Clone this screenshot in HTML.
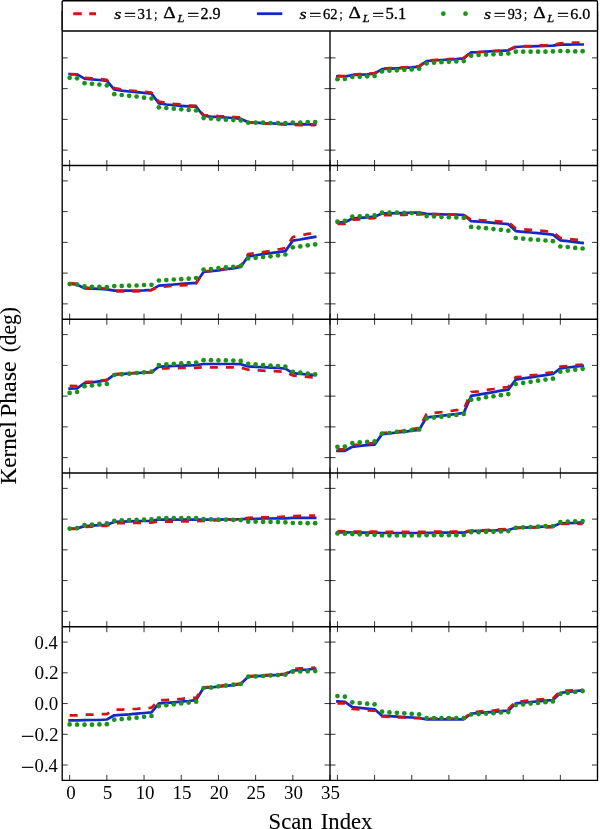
<!DOCTYPE html>
<html><head><meta charset="utf-8"><title>Kernel Phase vs Scan Index</title>
<style>html,body{margin:0;padding:0;background:#fff;}svg{display:block;}text{font-family:"Liberation Serif","DejaVu Serif",serif;fill:#000;}.lg text{stroke:#000;stroke-width:0.3px;}.ax text{stroke:#000;stroke-width:0.12px;}</style>
</head><body>
<svg width="600" height="829" viewBox="0 0 600 829">
<rect x="0" y="0" width="600" height="829" fill="#fff"/>
<polyline points="69.64,74.00 77.08,74.40 84.52,78.60 91.96,79.40 99.40,80.00 106.84,80.80 114.28,89.50 121.72,90.60 129.16,91.50 136.60,92.20 144.04,92.80 151.48,93.70 158.92,103.30 166.36,104.50 173.80,105.20 181.24,105.80 188.68,106.30 196.12,106.70 203.56,116.00 211.00,116.70 218.44,117.10 225.88,117.50 233.32,118.00 240.76,118.80 248.20,122.30 255.64,122.70 263.08,123.20 270.52,123.40 277.96,123.60 285.40,124.00 292.84,124.00 300.28,124.30 307.72,124.30 315.16,124.50" fill="none" stroke="#1428c6" stroke-width="2.7" stroke-linecap="square" stroke-linejoin="round"/>
<polyline points="69.64,74.30 77.08,74.30 84.52,77.80 91.96,78.40 99.40,79.00 106.84,79.80 114.28,88.00 121.72,89.50 129.16,90.50 136.60,91.00 144.04,91.70 151.48,92.50 158.92,101.70 166.36,102.80 173.80,103.80 181.24,104.50 188.68,105.30 196.12,105.80 203.56,115.00 211.00,115.60 218.44,116.10 225.88,116.40 233.32,117.00 240.76,117.50 248.20,122.30 255.64,122.80 263.08,123.40 270.52,123.80 277.96,124.20 285.40,124.60 292.84,124.80 300.28,125.10 307.72,125.10 315.16,125.20" fill="none" stroke="#cf1414" stroke-width="2.7" stroke-dasharray="8.02 8.02" stroke-linecap="butt" stroke-linejoin="round"/>
<g fill="#1a931b"><circle cx="69.64" cy="77.80" r="2.35"/><circle cx="77.08" cy="78.30" r="2.35"/><circle cx="84.52" cy="83.20" r="2.35"/><circle cx="91.96" cy="83.80" r="2.35"/><circle cx="99.40" cy="84.60" r="2.35"/><circle cx="106.84" cy="85.40" r="2.35"/><circle cx="114.28" cy="94.20" r="2.35"/><circle cx="121.72" cy="95.00" r="2.35"/><circle cx="129.16" cy="95.80" r="2.35"/><circle cx="136.60" cy="96.50" r="2.35"/><circle cx="144.04" cy="97.70" r="2.35"/><circle cx="151.48" cy="98.50" r="2.35"/><circle cx="158.92" cy="107.30" r="2.35"/><circle cx="166.36" cy="108.00" r="2.35"/><circle cx="173.80" cy="108.70" r="2.35"/><circle cx="181.24" cy="109.30" r="2.35"/><circle cx="188.68" cy="110.00" r="2.35"/><circle cx="196.12" cy="110.50" r="2.35"/><circle cx="203.56" cy="118.10" r="2.35"/><circle cx="211.00" cy="118.60" r="2.35"/><circle cx="218.44" cy="119.30" r="2.35"/><circle cx="225.88" cy="119.70" r="2.35"/><circle cx="233.32" cy="120.10" r="2.35"/><circle cx="240.76" cy="120.40" r="2.35"/><circle cx="248.20" cy="122.70" r="2.35"/><circle cx="255.64" cy="122.70" r="2.35"/><circle cx="263.08" cy="122.70" r="2.35"/><circle cx="270.52" cy="123.00" r="2.35"/><circle cx="277.96" cy="123.20" r="2.35"/><circle cx="285.40" cy="123.00" r="2.35"/><circle cx="292.84" cy="122.50" r="2.35"/><circle cx="300.28" cy="122.50" r="2.35"/><circle cx="307.72" cy="122.10" r="2.35"/><circle cx="315.16" cy="122.10" r="2.35"/></g>
<polyline points="337.44,76.30 344.87,76.50 352.30,75.20 359.73,74.70 367.16,74.30 374.59,73.60 382.02,69.20 389.45,68.70 396.88,68.30 404.31,67.80 411.74,67.40 419.17,66.70 426.60,61.10 434.03,60.50 441.46,60.00 448.89,59.60 456.32,59.10 463.75,58.40 471.18,52.30 478.61,52.10 486.04,51.70 493.47,51.20 500.90,50.80 508.33,50.30 515.76,47.00 523.19,46.50 530.62,46.30 538.05,46.10 545.48,45.90 552.91,45.60 560.34,44.70 567.77,44.70 575.20,44.50 582.63,44.50" fill="none" stroke="#1428c6" stroke-width="2.7" stroke-linecap="square" stroke-linejoin="round"/>
<polyline points="337.44,75.80 344.87,76.00 352.30,74.70 359.73,74.20 367.16,73.80 374.59,73.10 382.02,68.70 389.45,68.20 396.88,67.80 404.31,67.30 411.74,66.90 419.17,66.20 426.60,60.60 434.03,60.00 441.46,59.50 448.89,59.10 456.32,58.60 463.75,57.90 471.18,52.30 478.61,52.00 486.04,51.70 493.47,51.20 500.90,50.50 508.33,50.10 515.76,46.50 523.19,46.20 530.62,46.10 538.05,45.50 545.48,45.30 552.91,45.00 560.34,43.40 567.77,42.90 575.20,42.70 582.63,42.50" fill="none" stroke="#cf1414" stroke-width="2.7" stroke-dasharray="8.02 8.02" stroke-linecap="butt" stroke-linejoin="round"/>
<g fill="#1a931b"><circle cx="337.44" cy="79.20" r="2.35"/><circle cx="344.87" cy="79.00" r="2.35"/><circle cx="352.30" cy="77.00" r="2.35"/><circle cx="359.73" cy="76.80" r="2.35"/><circle cx="367.16" cy="76.30" r="2.35"/><circle cx="374.59" cy="75.90" r="2.35"/><circle cx="382.02" cy="71.40" r="2.35"/><circle cx="389.45" cy="70.70" r="2.35"/><circle cx="396.88" cy="70.30" r="2.35"/><circle cx="404.31" cy="69.80" r="2.35"/><circle cx="411.74" cy="69.40" r="2.35"/><circle cx="419.17" cy="68.70" r="2.35"/><circle cx="426.60" cy="63.40" r="2.35"/><circle cx="434.03" cy="62.70" r="2.35"/><circle cx="441.46" cy="62.20" r="2.35"/><circle cx="448.89" cy="61.80" r="2.35"/><circle cx="456.32" cy="61.40" r="2.35"/><circle cx="463.75" cy="61.10" r="2.35"/><circle cx="471.18" cy="55.70" r="2.35"/><circle cx="478.61" cy="55.00" r="2.35"/><circle cx="486.04" cy="54.60" r="2.35"/><circle cx="493.47" cy="54.30" r="2.35"/><circle cx="500.90" cy="53.90" r="2.35"/><circle cx="508.33" cy="53.40" r="2.35"/><circle cx="515.76" cy="51.70" r="2.35"/><circle cx="523.19" cy="51.70" r="2.35"/><circle cx="530.62" cy="51.70" r="2.35"/><circle cx="538.05" cy="51.70" r="2.35"/><circle cx="545.48" cy="51.70" r="2.35"/><circle cx="552.91" cy="51.40" r="2.35"/><circle cx="560.34" cy="51.00" r="2.35"/><circle cx="567.77" cy="51.20" r="2.35"/><circle cx="575.20" cy="51.40" r="2.35"/><circle cx="582.63" cy="51.20" r="2.35"/></g>
<polyline points="69.64,283.70 77.08,284.60 84.52,288.40 91.96,288.60 99.40,288.80 106.84,289.30 114.28,290.60 121.72,290.60 129.16,290.60 136.60,290.60 144.04,290.40 151.48,289.90 158.92,285.60 166.36,285.10 173.80,284.50 181.24,283.90 188.68,283.40 196.12,282.80 203.56,271.90 211.00,271.20 218.44,270.30 225.88,269.20 233.32,268.30 240.76,267.00 248.20,256.30 255.64,255.40 263.08,254.00 270.52,253.10 277.96,252.20 285.40,251.10 292.84,240.60 300.28,239.50 307.72,238.20 315.16,236.80" fill="none" stroke="#1428c6" stroke-width="2.7" stroke-linecap="square" stroke-linejoin="round"/>
<polyline points="69.64,283.20 77.08,283.80 84.52,287.70 91.96,288.00 99.40,288.40 106.84,288.60 114.28,291.30 121.72,291.30 129.16,291.30 136.60,291.30 144.04,291.00 151.48,290.10 158.92,286.80 166.36,286.50 173.80,285.80 181.24,285.30 188.68,285.10 196.12,283.50 203.56,271.30 211.00,270.80 218.44,269.50 225.88,268.80 233.32,267.50 240.76,265.90 248.20,254.00 255.64,253.00 263.08,252.20 270.52,251.00 277.96,249.50 285.40,248.00 292.84,237.00 300.28,235.50 307.72,233.90 315.16,233.00" fill="none" stroke="#cf1414" stroke-width="2.7" stroke-dasharray="8.02 8.02" stroke-linecap="butt" stroke-linejoin="round"/>
<g fill="#1a931b"><circle cx="69.64" cy="284.10" r="2.35"/><circle cx="77.08" cy="284.60" r="2.35"/><circle cx="84.52" cy="286.40" r="2.35"/><circle cx="91.96" cy="286.80" r="2.35"/><circle cx="99.40" cy="286.80" r="2.35"/><circle cx="106.84" cy="287.00" r="2.35"/><circle cx="114.28" cy="286.10" r="2.35"/><circle cx="121.72" cy="285.90" r="2.35"/><circle cx="129.16" cy="285.70" r="2.35"/><circle cx="136.60" cy="285.50" r="2.35"/><circle cx="144.04" cy="285.00" r="2.35"/><circle cx="151.48" cy="284.80" r="2.35"/><circle cx="158.92" cy="280.50" r="2.35"/><circle cx="166.36" cy="280.10" r="2.35"/><circle cx="173.80" cy="279.50" r="2.35"/><circle cx="181.24" cy="279.20" r="2.35"/><circle cx="188.68" cy="278.70" r="2.35"/><circle cx="196.12" cy="278.00" r="2.35"/><circle cx="203.56" cy="269.60" r="2.35"/><circle cx="211.00" cy="269.00" r="2.35"/><circle cx="218.44" cy="268.10" r="2.35"/><circle cx="225.88" cy="267.40" r="2.35"/><circle cx="233.32" cy="266.80" r="2.35"/><circle cx="240.76" cy="265.90" r="2.35"/><circle cx="248.20" cy="258.50" r="2.35"/><circle cx="255.64" cy="257.80" r="2.35"/><circle cx="263.08" cy="256.90" r="2.35"/><circle cx="270.52" cy="256.30" r="2.35"/><circle cx="277.96" cy="255.40" r="2.35"/><circle cx="285.40" cy="254.50" r="2.35"/><circle cx="292.84" cy="247.30" r="2.35"/><circle cx="300.28" cy="246.40" r="2.35"/><circle cx="307.72" cy="245.30" r="2.35"/><circle cx="315.16" cy="244.40" r="2.35"/></g>
<polyline points="337.44,222.30 344.87,222.30 352.30,218.50 359.73,217.90 367.16,217.40 374.59,216.70 382.02,213.40 389.45,213.40 396.88,213.20 404.31,213.00 411.74,212.70 419.17,212.70 426.60,213.80 434.03,214.10 441.46,214.30 448.89,214.50 456.32,214.70 463.75,215.00 471.18,221.10 478.61,221.70 486.04,222.20 493.47,222.90 500.90,223.50 508.33,224.20 515.76,231.10 523.19,231.80 530.62,232.50 538.05,233.10 545.48,233.80 552.91,234.70 560.34,240.30 567.77,241.20 575.20,242.10 582.63,243.00" fill="none" stroke="#1428c6" stroke-width="2.7" stroke-linecap="square" stroke-linejoin="round"/>
<polyline points="337.44,223.90 344.87,223.90 352.30,219.70 359.73,219.30 367.16,218.50 374.59,218.10 382.02,215.20 389.45,215.20 396.88,215.00 404.31,214.80 411.74,214.50 419.17,214.30 426.60,214.00 434.03,214.10 441.46,214.30 448.89,214.50 456.32,214.70 463.75,215.00 471.18,219.80 478.61,220.20 486.04,220.50 493.47,221.00 500.90,221.50 508.33,222.00 515.76,228.50 523.19,229.20 530.62,229.80 538.05,230.50 545.48,231.20 552.91,232.00 560.34,238.00 567.77,238.80 575.20,239.60 582.63,240.30" fill="none" stroke="#cf1414" stroke-width="2.7" stroke-dasharray="8.02 8.02" stroke-linecap="butt" stroke-linejoin="round"/>
<g fill="#1a931b"><circle cx="337.44" cy="221.70" r="2.35"/><circle cx="344.87" cy="220.80" r="2.35"/><circle cx="352.30" cy="216.70" r="2.35"/><circle cx="359.73" cy="216.30" r="2.35"/><circle cx="367.16" cy="215.90" r="2.35"/><circle cx="374.59" cy="215.40" r="2.35"/><circle cx="382.02" cy="212.70" r="2.35"/><circle cx="389.45" cy="212.70" r="2.35"/><circle cx="396.88" cy="212.70" r="2.35"/><circle cx="404.31" cy="212.80" r="2.35"/><circle cx="411.74" cy="213.00" r="2.35"/><circle cx="419.17" cy="213.00" r="2.35"/><circle cx="426.60" cy="216.10" r="2.35"/><circle cx="434.03" cy="216.50" r="2.35"/><circle cx="441.46" cy="217.00" r="2.35"/><circle cx="448.89" cy="217.20" r="2.35"/><circle cx="456.32" cy="217.40" r="2.35"/><circle cx="463.75" cy="217.90" r="2.35"/><circle cx="471.18" cy="226.90" r="2.35"/><circle cx="478.61" cy="227.60" r="2.35"/><circle cx="486.04" cy="228.20" r="2.35"/><circle cx="493.47" cy="229.10" r="2.35"/><circle cx="500.90" cy="229.80" r="2.35"/><circle cx="508.33" cy="230.70" r="2.35"/><circle cx="515.76" cy="238.00" r="2.35"/><circle cx="523.19" cy="238.70" r="2.35"/><circle cx="530.62" cy="239.40" r="2.35"/><circle cx="538.05" cy="239.80" r="2.35"/><circle cx="545.48" cy="240.50" r="2.35"/><circle cx="552.91" cy="241.20" r="2.35"/><circle cx="560.34" cy="246.50" r="2.35"/><circle cx="567.77" cy="247.00" r="2.35"/><circle cx="575.20" cy="247.90" r="2.35"/><circle cx="582.63" cy="248.50" r="2.35"/></g>
<polyline points="69.64,388.60 77.08,388.40 84.52,383.00 91.96,382.40 99.40,381.30 106.84,380.10 114.28,374.60 121.72,374.10 129.16,373.40 136.60,373.00 144.04,372.60 151.48,372.10 158.92,366.70 166.36,366.30 173.80,365.90 181.24,365.60 188.68,365.40 196.12,365.20 203.56,364.00 211.00,364.00 218.44,364.00 225.88,364.00 233.32,364.00 240.76,364.20 248.20,366.40 255.64,366.90 263.08,367.10 270.52,367.60 277.96,368.00 285.40,368.70 292.84,373.10 300.28,373.80 307.72,374.50 315.16,375.10" fill="none" stroke="#1428c6" stroke-width="2.7" stroke-linecap="square" stroke-linejoin="round"/>
<polyline points="69.64,385.80 77.08,386.00 84.52,382.00 91.96,381.50 99.40,380.70 106.84,379.90 114.28,374.00 121.72,373.70 129.16,373.30 136.60,373.00 144.04,372.60 151.48,372.30 158.92,368.50 166.36,368.30 173.80,368.20 181.24,368.00 188.68,367.90 196.12,367.80 203.56,367.30 211.00,367.30 218.44,367.30 225.88,367.30 233.32,367.40 240.76,367.50 248.20,369.70 255.64,370.30 263.08,370.70 270.52,371.00 277.96,371.40 285.40,371.80 292.84,375.50 300.28,376.30 307.72,377.00 315.16,377.50" fill="none" stroke="#cf1414" stroke-width="2.7" stroke-dasharray="8.02 8.02" stroke-linecap="butt" stroke-linejoin="round"/>
<g fill="#1a931b"><circle cx="69.64" cy="392.90" r="2.35"/><circle cx="77.08" cy="392.00" r="2.35"/><circle cx="84.52" cy="386.20" r="2.35"/><circle cx="91.96" cy="385.50" r="2.35"/><circle cx="99.40" cy="384.60" r="2.35"/><circle cx="106.84" cy="383.90" r="2.35"/><circle cx="114.28" cy="375.00" r="2.35"/><circle cx="121.72" cy="374.30" r="2.35"/><circle cx="129.16" cy="373.70" r="2.35"/><circle cx="136.60" cy="373.00" r="2.35"/><circle cx="144.04" cy="372.30" r="2.35"/><circle cx="151.48" cy="371.70" r="2.35"/><circle cx="158.92" cy="365.00" r="2.35"/><circle cx="166.36" cy="364.30" r="2.35"/><circle cx="173.80" cy="363.80" r="2.35"/><circle cx="181.24" cy="363.40" r="2.35"/><circle cx="188.68" cy="363.00" r="2.35"/><circle cx="196.12" cy="362.50" r="2.35"/><circle cx="203.56" cy="360.20" r="2.35"/><circle cx="211.00" cy="360.20" r="2.35"/><circle cx="218.44" cy="360.40" r="2.35"/><circle cx="225.88" cy="360.40" r="2.35"/><circle cx="233.32" cy="360.60" r="2.35"/><circle cx="240.76" cy="360.90" r="2.35"/><circle cx="248.20" cy="363.80" r="2.35"/><circle cx="255.64" cy="364.40" r="2.35"/><circle cx="263.08" cy="365.10" r="2.35"/><circle cx="270.52" cy="365.50" r="2.35"/><circle cx="277.96" cy="366.00" r="2.35"/><circle cx="285.40" cy="366.70" r="2.35"/><circle cx="292.84" cy="371.80" r="2.35"/><circle cx="300.28" cy="372.70" r="2.35"/><circle cx="307.72" cy="373.60" r="2.35"/><circle cx="315.16" cy="374.30" r="2.35"/></g>
<polyline points="337.44,450.80 344.87,450.80 352.30,446.80 359.73,445.90 367.16,445.20 374.59,444.60 382.02,434.10 389.45,433.40 396.88,432.50 404.31,431.80 411.74,430.70 419.17,429.80 426.60,417.30 434.03,416.70 441.46,415.80 448.89,414.90 456.32,414.00 463.75,412.90 471.18,395.90 478.61,394.70 486.04,393.40 493.47,392.10 500.90,390.70 508.33,389.60 515.76,379.60 523.19,378.40 530.62,377.30 538.05,376.20 545.48,375.10 552.91,374.00 560.34,368.40 567.77,367.50 575.20,366.60 582.63,365.70" fill="none" stroke="#1428c6" stroke-width="2.7" stroke-linecap="square" stroke-linejoin="round"/>
<polyline points="337.44,449.30 344.87,449.30 352.30,445.00 359.73,444.60 367.16,443.80 374.59,443.00 382.02,433.00 389.45,432.50 396.88,431.30 404.31,430.70 411.74,429.20 419.17,428.00 426.60,414.00 434.03,413.00 441.46,412.20 448.89,411.20 456.32,410.20 463.75,409.50 471.18,392.00 478.61,391.40 486.04,390.00 493.47,389.00 500.90,387.80 508.33,387.00 515.76,377.00 523.19,376.70 530.62,375.30 538.05,374.70 545.48,373.00 552.91,372.40 560.34,366.50 567.77,366.20 575.20,365.00 582.63,364.60" fill="none" stroke="#cf1414" stroke-width="2.7" stroke-dasharray="8.02 8.02" stroke-linecap="butt" stroke-linejoin="round"/>
<g fill="#1a931b"><circle cx="337.44" cy="446.80" r="2.35"/><circle cx="344.87" cy="446.60" r="2.35"/><circle cx="352.30" cy="443.00" r="2.35"/><circle cx="359.73" cy="442.30" r="2.35"/><circle cx="367.16" cy="441.90" r="2.35"/><circle cx="374.59" cy="441.40" r="2.35"/><circle cx="382.02" cy="433.60" r="2.35"/><circle cx="389.45" cy="433.00" r="2.35"/><circle cx="396.88" cy="431.80" r="2.35"/><circle cx="404.31" cy="431.20" r="2.35"/><circle cx="411.74" cy="430.10" r="2.35"/><circle cx="419.17" cy="429.40" r="2.35"/><circle cx="426.60" cy="418.40" r="2.35"/><circle cx="434.03" cy="417.60" r="2.35"/><circle cx="441.46" cy="416.70" r="2.35"/><circle cx="448.89" cy="415.80" r="2.35"/><circle cx="456.32" cy="414.90" r="2.35"/><circle cx="463.75" cy="414.00" r="2.35"/><circle cx="471.18" cy="399.70" r="2.35"/><circle cx="478.61" cy="398.80" r="2.35"/><circle cx="486.04" cy="397.20" r="2.35"/><circle cx="493.47" cy="396.30" r="2.35"/><circle cx="500.90" cy="395.20" r="2.35"/><circle cx="508.33" cy="394.10" r="2.35"/><circle cx="515.76" cy="384.00" r="2.35"/><circle cx="523.19" cy="382.90" r="2.35"/><circle cx="530.62" cy="381.80" r="2.35"/><circle cx="538.05" cy="380.70" r="2.35"/><circle cx="545.48" cy="379.60" r="2.35"/><circle cx="552.91" cy="378.70" r="2.35"/><circle cx="560.34" cy="371.70" r="2.35"/><circle cx="567.77" cy="370.60" r="2.35"/><circle cx="575.20" cy="369.70" r="2.35"/><circle cx="582.63" cy="368.80" r="2.35"/></g>
<polyline points="69.64,528.60 77.08,528.40 84.52,526.10 91.96,525.70 99.40,525.20 106.84,524.80 114.28,521.90 121.72,521.70 129.16,521.40 136.60,521.20 144.04,521.00 151.48,520.80 158.92,519.70 166.36,519.70 173.80,519.70 181.24,519.70 188.68,519.70 196.12,519.70 203.56,519.70 211.00,519.70 218.44,519.70 225.88,519.40 233.32,519.40 240.76,519.20 248.20,518.80 255.64,518.80 263.08,518.50 270.52,518.50 277.96,518.30 285.40,518.30 292.84,517.90 300.28,517.90 307.72,517.90 315.16,517.90" fill="none" stroke="#1428c6" stroke-width="2.7" stroke-linecap="square" stroke-linejoin="round"/>
<polyline points="69.64,529.00 77.08,529.00 84.52,526.80 91.96,526.60 99.40,526.00 106.84,525.80 114.28,523.20 121.72,523.10 129.16,523.00 136.60,522.90 144.04,522.70 151.48,522.60 158.92,521.50 166.36,521.70 173.80,521.70 181.24,521.50 188.68,521.30 196.12,521.20 203.56,520.90 211.00,520.50 218.44,520.10 225.88,519.70 233.32,519.40 240.76,519.20 248.20,517.90 255.64,517.50 263.08,517.40 270.52,517.20 277.96,517.00 285.40,516.50 292.84,516.10 300.28,515.90 307.72,515.60 315.16,515.60" fill="none" stroke="#cf1414" stroke-width="2.7" stroke-dasharray="8.02 8.02" stroke-linecap="butt" stroke-linejoin="round"/>
<g fill="#1a931b"><circle cx="69.64" cy="528.60" r="2.35"/><circle cx="77.08" cy="528.10" r="2.35"/><circle cx="84.52" cy="525.00" r="2.35"/><circle cx="91.96" cy="524.60" r="2.35"/><circle cx="99.40" cy="523.90" r="2.35"/><circle cx="106.84" cy="523.40" r="2.35"/><circle cx="114.28" cy="520.80" r="2.35"/><circle cx="121.72" cy="520.30" r="2.35"/><circle cx="129.16" cy="520.10" r="2.35"/><circle cx="136.60" cy="519.90" r="2.35"/><circle cx="144.04" cy="519.70" r="2.35"/><circle cx="151.48" cy="519.40" r="2.35"/><circle cx="158.92" cy="518.30" r="2.35"/><circle cx="166.36" cy="518.10" r="2.35"/><circle cx="173.80" cy="518.10" r="2.35"/><circle cx="181.24" cy="518.10" r="2.35"/><circle cx="188.68" cy="518.10" r="2.35"/><circle cx="196.12" cy="518.10" r="2.35"/><circle cx="203.56" cy="519.20" r="2.35"/><circle cx="211.00" cy="519.40" r="2.35"/><circle cx="218.44" cy="519.70" r="2.35"/><circle cx="225.88" cy="519.70" r="2.35"/><circle cx="233.32" cy="519.90" r="2.35"/><circle cx="240.76" cy="520.10" r="2.35"/><circle cx="248.20" cy="521.70" r="2.35"/><circle cx="255.64" cy="521.70" r="2.35"/><circle cx="263.08" cy="521.90" r="2.35"/><circle cx="270.52" cy="521.90" r="2.35"/><circle cx="277.96" cy="522.10" r="2.35"/><circle cx="285.40" cy="522.30" r="2.35"/><circle cx="292.84" cy="523.00" r="2.35"/><circle cx="300.28" cy="523.00" r="2.35"/><circle cx="307.72" cy="523.20" r="2.35"/><circle cx="315.16" cy="523.20" r="2.35"/></g>
<polyline points="337.44,532.40 344.87,532.40 352.30,532.50 359.73,532.60 367.16,532.60 374.59,532.60 382.02,533.00 389.45,533.00 396.88,533.00 404.31,533.00 411.74,533.00 419.17,533.00 426.60,532.80 434.03,532.80 441.46,532.70 448.89,532.70 456.32,532.60 463.75,532.60 471.18,531.10 478.61,530.90 486.04,530.70 493.47,530.50 500.90,530.20 508.33,530.00 515.76,527.80 523.19,527.60 530.62,527.30 538.05,526.90 545.48,526.70 552.91,526.40 560.34,523.30 567.77,523.10 575.20,522.90 582.63,522.40" fill="none" stroke="#1428c6" stroke-width="2.7" stroke-linecap="square" stroke-linejoin="round"/>
<polyline points="337.44,531.20 344.87,531.30 352.30,531.50 359.73,531.60 367.16,531.70 374.59,531.70 382.02,531.90 389.45,531.90 396.88,531.90 404.31,531.90 411.74,531.90 419.17,531.90 426.60,531.70 434.03,531.70 441.46,531.70 448.89,531.70 456.32,531.70 463.75,531.60 471.18,530.70 478.61,530.40 486.04,530.00 493.47,529.70 500.90,529.30 508.33,529.00 515.76,528.00 523.19,527.80 530.62,527.60 538.05,527.50 545.48,527.30 552.91,527.10 560.34,524.00 567.77,523.90 575.20,523.80 582.63,524.00" fill="none" stroke="#cf1414" stroke-width="2.7" stroke-dasharray="8.02 8.02" stroke-linecap="butt" stroke-linejoin="round"/>
<g fill="#1a931b"><circle cx="337.44" cy="533.40" r="2.35"/><circle cx="344.87" cy="533.70" r="2.35"/><circle cx="352.30" cy="534.10" r="2.35"/><circle cx="359.73" cy="534.30" r="2.35"/><circle cx="367.16" cy="534.60" r="2.35"/><circle cx="374.59" cy="534.80" r="2.35"/><circle cx="382.02" cy="535.50" r="2.35"/><circle cx="389.45" cy="535.50" r="2.35"/><circle cx="396.88" cy="535.50" r="2.35"/><circle cx="404.31" cy="535.50" r="2.35"/><circle cx="411.74" cy="535.50" r="2.35"/><circle cx="419.17" cy="535.50" r="2.35"/><circle cx="426.60" cy="535.20" r="2.35"/><circle cx="434.03" cy="535.20" r="2.35"/><circle cx="441.46" cy="535.20" r="2.35"/><circle cx="448.89" cy="535.20" r="2.35"/><circle cx="456.32" cy="535.20" r="2.35"/><circle cx="463.75" cy="535.00" r="2.35"/><circle cx="471.18" cy="532.20" r="2.35"/><circle cx="478.61" cy="532.20" r="2.35"/><circle cx="486.04" cy="531.80" r="2.35"/><circle cx="493.47" cy="531.80" r="2.35"/><circle cx="500.90" cy="531.40" r="2.35"/><circle cx="508.33" cy="531.10" r="2.35"/><circle cx="515.76" cy="527.80" r="2.35"/><circle cx="523.19" cy="527.30" r="2.35"/><circle cx="530.62" cy="527.10" r="2.35"/><circle cx="538.05" cy="526.70" r="2.35"/><circle cx="545.48" cy="526.20" r="2.35"/><circle cx="552.91" cy="526.00" r="2.35"/><circle cx="560.34" cy="522.20" r="2.35"/><circle cx="567.77" cy="521.70" r="2.35"/><circle cx="575.20" cy="521.30" r="2.35"/><circle cx="582.63" cy="521.10" r="2.35"/></g>
<polyline points="69.64,720.40 77.08,720.40 84.52,720.20 91.96,720.00 99.40,720.00 106.84,719.50 114.28,715.30 121.72,714.80 129.16,714.40 136.60,713.70 144.04,713.00 151.48,712.40 158.92,703.40 166.36,702.80 173.80,702.30 181.24,701.70 188.68,701.00 196.12,700.10 203.56,687.80 211.00,687.40 218.44,686.70 225.88,685.80 233.32,685.10 240.76,684.00 248.20,676.70 255.64,676.20 263.08,675.80 270.52,675.30 277.96,674.90 285.40,674.20 292.84,670.60 300.28,670.00 307.72,669.50 315.16,668.80" fill="none" stroke="#1428c6" stroke-width="2.7" stroke-linecap="square" stroke-linejoin="round"/>
<polyline points="69.64,715.30 77.08,715.30 84.52,714.60 91.96,714.60 99.40,714.20 106.84,714.20 114.28,709.70 121.72,709.70 129.16,709.00 136.60,709.00 144.04,707.90 151.48,707.90 158.92,700.10 166.36,700.10 173.80,699.00 181.24,699.00 188.68,697.90 196.12,697.90 203.56,687.40 211.00,686.80 218.44,686.00 225.88,685.10 233.32,684.20 240.76,683.60 248.20,676.20 255.64,675.80 263.08,675.30 270.52,674.80 277.96,674.30 285.40,673.80 292.84,669.10 300.28,668.40 307.72,668.00 315.16,667.70" fill="none" stroke="#cf1414" stroke-width="2.7" stroke-dasharray="8.02 8.02" stroke-linecap="butt" stroke-linejoin="round"/>
<g fill="#1a931b"><circle cx="69.64" cy="724.40" r="2.35"/><circle cx="77.08" cy="724.70" r="2.35"/><circle cx="84.52" cy="724.70" r="2.35"/><circle cx="91.96" cy="724.70" r="2.35"/><circle cx="99.40" cy="724.40" r="2.35"/><circle cx="106.84" cy="724.20" r="2.35"/><circle cx="114.28" cy="719.70" r="2.35"/><circle cx="121.72" cy="719.10" r="2.35"/><circle cx="129.16" cy="718.40" r="2.35"/><circle cx="136.60" cy="717.70" r="2.35"/><circle cx="144.04" cy="716.80" r="2.35"/><circle cx="151.48" cy="716.00" r="2.35"/><circle cx="158.92" cy="706.10" r="2.35"/><circle cx="166.36" cy="705.20" r="2.35"/><circle cx="173.80" cy="704.30" r="2.35"/><circle cx="181.24" cy="703.40" r="2.35"/><circle cx="188.68" cy="702.60" r="2.35"/><circle cx="196.12" cy="701.70" r="2.35"/><circle cx="203.56" cy="688.00" r="2.35"/><circle cx="211.00" cy="687.60" r="2.35"/><circle cx="218.44" cy="686.30" r="2.35"/><circle cx="225.88" cy="685.60" r="2.35"/><circle cx="233.32" cy="684.70" r="2.35"/><circle cx="240.76" cy="684.00" r="2.35"/><circle cx="248.20" cy="676.70" r="2.35"/><circle cx="255.64" cy="676.40" r="2.35"/><circle cx="263.08" cy="676.00" r="2.35"/><circle cx="270.52" cy="675.50" r="2.35"/><circle cx="277.96" cy="675.10" r="2.35"/><circle cx="285.40" cy="674.70" r="2.35"/><circle cx="292.84" cy="671.70" r="2.35"/><circle cx="300.28" cy="671.50" r="2.35"/><circle cx="307.72" cy="671.30" r="2.35"/><circle cx="315.16" cy="671.10" r="2.35"/></g>
<polyline points="337.44,701.40 344.87,701.90 352.30,707.20 359.73,707.90 367.16,708.60 374.59,709.30 382.02,715.70 389.45,716.20 396.88,716.60 404.31,717.10 411.74,717.50 419.17,718.00 426.60,719.30 434.03,719.30 441.46,719.30 448.89,719.30 456.32,719.30 463.75,719.30 471.18,713.60 478.61,713.00 486.04,712.30 493.47,711.80 500.90,711.20 508.33,710.70 515.76,703.40 523.19,702.70 530.62,702.00 538.05,701.40 545.48,700.70 552.91,700.00 560.34,692.90 567.77,692.00 575.20,691.10 582.63,690.20" fill="none" stroke="#1428c6" stroke-width="2.7" stroke-linecap="square" stroke-linejoin="round"/>
<polyline points="337.44,703.40 344.87,703.40 352.30,709.00 359.73,709.50 367.16,710.30 374.59,710.60 382.02,716.40 389.45,716.80 396.88,717.30 404.31,717.50 411.74,718.00 419.17,718.20 426.60,718.60 434.03,718.60 441.46,718.60 448.89,718.60 456.32,718.60 463.75,718.60 471.18,712.50 478.61,711.70 486.04,710.70 493.47,710.50 500.90,709.50 508.33,709.00 515.76,701.50 523.19,701.10 530.62,700.30 538.05,699.50 545.48,698.90 552.91,698.50 560.34,691.00 567.77,690.50 575.20,690.20 582.63,689.70" fill="none" stroke="#cf1414" stroke-width="2.7" stroke-dasharray="8.02 8.02" stroke-linecap="butt" stroke-linejoin="round"/>
<g fill="#1a931b"><circle cx="337.44" cy="696.10" r="2.35"/><circle cx="344.87" cy="696.70" r="2.35"/><circle cx="352.30" cy="702.30" r="2.35"/><circle cx="359.73" cy="703.00" r="2.35"/><circle cx="367.16" cy="703.70" r="2.35"/><circle cx="374.59" cy="704.30" r="2.35"/><circle cx="382.02" cy="711.70" r="2.35"/><circle cx="389.45" cy="712.40" r="2.35"/><circle cx="396.88" cy="712.80" r="2.35"/><circle cx="404.31" cy="713.30" r="2.35"/><circle cx="411.74" cy="713.90" r="2.35"/><circle cx="419.17" cy="714.40" r="2.35"/><circle cx="426.60" cy="718.00" r="2.35"/><circle cx="434.03" cy="718.00" r="2.35"/><circle cx="441.46" cy="718.00" r="2.35"/><circle cx="448.89" cy="718.00" r="2.35"/><circle cx="456.32" cy="718.00" r="2.35"/><circle cx="463.75" cy="718.00" r="2.35"/><circle cx="471.18" cy="714.50" r="2.35"/><circle cx="478.61" cy="714.10" r="2.35"/><circle cx="486.04" cy="713.60" r="2.35"/><circle cx="493.47" cy="713.20" r="2.35"/><circle cx="500.90" cy="712.50" r="2.35"/><circle cx="508.33" cy="712.10" r="2.35"/><circle cx="515.76" cy="705.10" r="2.35"/><circle cx="523.19" cy="704.50" r="2.35"/><circle cx="530.62" cy="703.60" r="2.35"/><circle cx="538.05" cy="702.90" r="2.35"/><circle cx="545.48" cy="702.20" r="2.35"/><circle cx="552.91" cy="701.40" r="2.35"/><circle cx="560.34" cy="694.00" r="2.35"/><circle cx="567.77" cy="692.90" r="2.35"/><circle cx="575.20" cy="692.00" r="2.35"/><circle cx="582.63" cy="691.10" r="2.35"/></g>
<path d="M62.2,11.77H597.5V780.4H62.2ZM330.0,11.77V780.4M62.2,165.5H597.5M62.2,319.25H597.5M62.2,473.0H597.5M62.2,626.7H597.5" fill="none" stroke="#000" stroke-width="1.35"/>
<path d="M62.2,150.13h5.5M330.0,150.13h-5.5M330.0,150.13h5.5M597.5,150.13h-5.5M62.2,119.38h5.5M330.0,119.38h-5.5M330.0,119.38h5.5M597.5,119.38h-5.5M62.2,88.64h5.5M330.0,88.64h-5.5M330.0,88.64h5.5M597.5,88.64h-5.5M62.2,57.89h5.5M330.0,57.89h-5.5M330.0,57.89h5.5M597.5,57.89h-5.5M62.2,27.14h5.5M330.0,27.14h-5.5M330.0,27.14h5.5M597.5,27.14h-5.5M69.64,11.77v5.5M69.64,165.5v-5.5M106.84,11.77v5.5M106.84,165.5v-5.5M144.04,11.77v5.5M144.04,165.5v-5.5M181.24,11.77v5.5M181.24,165.5v-5.5M218.44,11.77v5.5M218.44,165.5v-5.5M255.64,11.77v5.5M255.64,165.5v-5.5M292.84,11.77v5.5M292.84,165.5v-5.5M330.04,11.77v5.5M330.04,165.5v-5.5M337.44,11.77v5.5M337.44,165.5v-5.5M374.59,11.77v5.5M374.59,165.5v-5.5M411.74,11.77v5.5M411.74,165.5v-5.5M448.89,11.77v5.5M448.89,165.5v-5.5M486.04,11.77v5.5M486.04,165.5v-5.5M523.19,11.77v5.5M523.19,165.5v-5.5M560.34,11.77v5.5M560.34,165.5v-5.5M597.49,11.77v5.5M597.49,165.5v-5.5M62.2,303.88h5.5M330.0,303.88h-5.5M330.0,303.88h5.5M597.5,303.88h-5.5M62.2,273.12h5.5M330.0,273.12h-5.5M330.0,273.12h5.5M597.5,273.12h-5.5M62.2,242.38h5.5M330.0,242.38h-5.5M330.0,242.38h5.5M597.5,242.38h-5.5M62.2,211.62h5.5M330.0,211.62h-5.5M330.0,211.62h5.5M597.5,211.62h-5.5M62.2,180.88h5.5M330.0,180.88h-5.5M330.0,180.88h5.5M597.5,180.88h-5.5M69.64,165.5v5.5M69.64,319.25v-5.5M106.84,165.5v5.5M106.84,319.25v-5.5M144.04,165.5v5.5M144.04,319.25v-5.5M181.24,165.5v5.5M181.24,319.25v-5.5M218.44,165.5v5.5M218.44,319.25v-5.5M255.64,165.5v5.5M255.64,319.25v-5.5M292.84,165.5v5.5M292.84,319.25v-5.5M330.04,165.5v5.5M330.04,319.25v-5.5M337.44,165.5v5.5M337.44,319.25v-5.5M374.59,165.5v5.5M374.59,319.25v-5.5M411.74,165.5v5.5M411.74,319.25v-5.5M448.89,165.5v5.5M448.89,319.25v-5.5M486.04,165.5v5.5M486.04,319.25v-5.5M523.19,165.5v5.5M523.19,319.25v-5.5M560.34,165.5v5.5M560.34,319.25v-5.5M597.49,165.5v5.5M597.49,319.25v-5.5M62.2,457.62h5.5M330.0,457.62h-5.5M330.0,457.62h5.5M597.5,457.62h-5.5M62.2,426.88h5.5M330.0,426.88h-5.5M330.0,426.88h5.5M597.5,426.88h-5.5M62.2,396.12h5.5M330.0,396.12h-5.5M330.0,396.12h5.5M597.5,396.12h-5.5M62.2,365.38h5.5M330.0,365.38h-5.5M330.0,365.38h5.5M597.5,365.38h-5.5M62.2,334.62h5.5M330.0,334.62h-5.5M330.0,334.62h5.5M597.5,334.62h-5.5M69.64,319.25v5.5M69.64,473.0v-5.5M106.84,319.25v5.5M106.84,473.0v-5.5M144.04,319.25v5.5M144.04,473.0v-5.5M181.24,319.25v5.5M181.24,473.0v-5.5M218.44,319.25v5.5M218.44,473.0v-5.5M255.64,319.25v5.5M255.64,473.0v-5.5M292.84,319.25v5.5M292.84,473.0v-5.5M330.04,319.25v5.5M330.04,473.0v-5.5M337.44,319.25v5.5M337.44,473.0v-5.5M374.59,319.25v5.5M374.59,473.0v-5.5M411.74,319.25v5.5M411.74,473.0v-5.5M448.89,319.25v5.5M448.89,473.0v-5.5M486.04,319.25v5.5M486.04,473.0v-5.5M523.19,319.25v5.5M523.19,473.0v-5.5M560.34,319.25v5.5M560.34,473.0v-5.5M597.49,319.25v5.5M597.49,473.0v-5.5M62.2,611.33h5.5M330.0,611.33h-5.5M330.0,611.33h5.5M597.5,611.33h-5.5M62.2,580.59h5.5M330.0,580.59h-5.5M330.0,580.59h5.5M597.5,580.59h-5.5M62.2,549.85h5.5M330.0,549.85h-5.5M330.0,549.85h5.5M597.5,549.85h-5.5M62.2,519.11h5.5M330.0,519.11h-5.5M330.0,519.11h5.5M597.5,519.11h-5.5M62.2,488.37h5.5M330.0,488.37h-5.5M330.0,488.37h5.5M597.5,488.37h-5.5M69.64,473.0v5.5M69.64,626.7v-5.5M106.84,473.0v5.5M106.84,626.7v-5.5M144.04,473.0v5.5M144.04,626.7v-5.5M181.24,473.0v5.5M181.24,626.7v-5.5M218.44,473.0v5.5M218.44,626.7v-5.5M255.64,473.0v5.5M255.64,626.7v-5.5M292.84,473.0v5.5M292.84,626.7v-5.5M330.04,473.0v5.5M330.04,626.7v-5.5M337.44,473.0v5.5M337.44,626.7v-5.5M374.59,473.0v5.5M374.59,626.7v-5.5M411.74,473.0v5.5M411.74,626.7v-5.5M448.89,473.0v5.5M448.89,626.7v-5.5M486.04,473.0v5.5M486.04,626.7v-5.5M523.19,473.0v5.5M523.19,626.7v-5.5M560.34,473.0v5.5M560.34,626.7v-5.5M597.49,473.0v5.5M597.49,626.7v-5.5M62.2,765.03h5.5M330.0,765.03h-5.5M330.0,765.03h5.5M597.5,765.03h-5.5M62.2,734.29h5.5M330.0,734.29h-5.5M330.0,734.29h5.5M597.5,734.29h-5.5M62.2,703.55h5.5M330.0,703.55h-5.5M330.0,703.55h5.5M597.5,703.55h-5.5M62.2,672.81h5.5M330.0,672.81h-5.5M330.0,672.81h5.5M597.5,672.81h-5.5M62.2,642.07h5.5M330.0,642.07h-5.5M330.0,642.07h5.5M597.5,642.07h-5.5M69.64,626.7v5.5M69.64,780.4v-5.5M106.84,626.7v5.5M106.84,780.4v-5.5M144.04,626.7v5.5M144.04,780.4v-5.5M181.24,626.7v5.5M181.24,780.4v-5.5M218.44,626.7v5.5M218.44,780.4v-5.5M255.64,626.7v5.5M255.64,780.4v-5.5M292.84,626.7v5.5M292.84,780.4v-5.5M330.04,626.7v5.5M330.04,780.4v-5.5M337.44,626.7v5.5M337.44,780.4v-5.5M374.59,626.7v5.5M374.59,780.4v-5.5M411.74,626.7v5.5M411.74,780.4v-5.5M448.89,626.7v5.5M448.89,780.4v-5.5M486.04,626.7v5.5M486.04,780.4v-5.5M523.19,626.7v5.5M523.19,780.4v-5.5M560.34,626.7v5.5M560.34,780.4v-5.5M597.49,626.7v5.5M597.49,780.4v-5.5" fill="none" stroke="#000" stroke-width="0.8"/>
<rect x="62.2" y="0.75" width="535.3" height="30.25" rx="1.2" ry="1.2" fill="#fff" stroke="#000" stroke-width="1.4"/>
<line x1="73.25" y1="13.8" x2="96" y2="13.8" stroke="#cf1414" stroke-width="3" stroke-dasharray="8.5 7.5"/>
<line x1="258.4" y1="13.7" x2="280.9" y2="13.7" stroke="#1428c6" stroke-width="2.8" stroke-linecap="square"/>
<circle cx="443.3" cy="13.7" r="2.35" fill="#1a931b"/><circle cx="465.5" cy="13.7" r="2.35" fill="#1a931b"/>
<g class="lg">
<text transform="translate(114.18 18.86) scale(1.250 1)" font-size="14.37" font-style="italic">s</text>
<text transform="translate(124.04 19.50) scale(1.521 1)" font-size="14.00">=</text>
<text transform="translate(137.60 18.80) scale(0.953 1)" font-size="15.46">31</text>
<text transform="translate(154.21 19.18) scale(0.764 1)" font-size="14.64">;</text>
<text transform="translate(163.33 18.45) scale(1.163 1)" font-size="16.52">Δ</text>
<text transform="translate(177.45 22.45) scale(1.127 1)" font-size="10.92" font-style="italic">L</text>
<text transform="translate(187.15 19.50) scale(1.505 1)" font-size="14.00">=</text>
<text transform="translate(200.47 18.67) scale(1.031 1)" font-size="15.65">2.9</text>
<text transform="translate(299.38 18.86) scale(1.250 1)" font-size="14.37" font-style="italic">s</text>
<text transform="translate(309.24 19.50) scale(1.521 1)" font-size="14.00">=</text>
<text transform="translate(322.88 18.80) scale(0.942 1)" font-size="15.46">62</text>
<text transform="translate(339.41 19.18) scale(0.764 1)" font-size="14.64">;</text>
<text transform="translate(348.53 18.45) scale(1.163 1)" font-size="16.52">Δ</text>
<text transform="translate(362.65 22.45) scale(1.127 1)" font-size="10.92" font-style="italic">L</text>
<text transform="translate(372.35 19.50) scale(1.505 1)" font-size="14.00">=</text>
<text transform="translate(385.45 18.66) scale(1.057 1)" font-size="15.70">5.1</text>
<text transform="translate(483.98 18.86) scale(1.250 1)" font-size="14.37" font-style="italic">s</text>
<text transform="translate(493.84 19.50) scale(1.521 1)" font-size="14.00">=</text>
<text transform="translate(507.64 18.80) scale(0.917 1)" font-size="15.46">93</text>
<text transform="translate(524.01 19.18) scale(0.764 1)" font-size="14.64">;</text>
<text transform="translate(533.13 18.45) scale(1.163 1)" font-size="16.52">Δ</text>
<text transform="translate(547.25 22.45) scale(1.127 1)" font-size="10.92" font-style="italic">L</text>
<text transform="translate(556.95 19.50) scale(1.505 1)" font-size="14.00">=</text>
<text transform="translate(570.32 18.67) scale(1.031 1)" font-size="15.59">6.0</text>
</g>
<text transform="translate(34.60 648.60) scale(0.997 1)" font-size="18.68">0.4</text>
<text transform="translate(34.58 679.34) scale(1.032 1)" font-size="18.68">0.2</text>
<text transform="translate(34.59 710.09) scale(1.016 1)" font-size="18.68">0.0</text>
<text transform="translate(34.58 740.84) scale(1.032 1)" font-size="18.68">0.2</text>
<text transform="translate(20.76 743.96) scale(1.302 1.25)" font-size="19.0" fill="#4a4a4a">−</text>
<text transform="translate(34.60 771.58) scale(0.997 1)" font-size="18.68">0.4</text>
<text transform="translate(20.76 774.71) scale(1.302 1.25)" font-size="19.0" fill="#4a4a4a">−</text>
<text transform="translate(66.27 798.52) scale(1.030 1)" font-size="18.37">0</text>
<text transform="translate(102.78 798.51) scale(1.030 1)" font-size="18.65">5</text>
<text transform="translate(135.67 798.52) scale(1.030 1)" font-size="18.37">10</text>
<text transform="translate(172.52 798.51) scale(1.030 1)" font-size="18.51">15</text>
<text transform="translate(209.67 798.52) scale(1.030 1)" font-size="18.37">20</text>
<text transform="translate(246.51 798.52) scale(1.030 1)" font-size="18.44">25</text>
<text transform="translate(283.94 798.52) scale(1.030 1)" font-size="18.37">30</text>
<text transform="translate(320.93 798.52) scale(1.030 1)" font-size="18.44">35</text>
<g class="ax">
<text transform="translate(268.57 829.00) scale(1.000 1)" font-size="22.60">Scan</text>
<text transform="translate(320.76 829.00) scale(1.003 1)" font-size="22.60">Index</text>
<text transform="translate(16.20 484.60) rotate(-90) scale(1.038 1)" font-size="22.40">Kernel</text>
<text transform="translate(16.20 417.12) rotate(-90) scale(1.066 1)" font-size="22.40">Phase</text>
<text transform="translate(16.20 352.37) rotate(-90) scale(0.958 1)" font-size="22.40">(deg)</text>
</g>
</svg></body></html>
